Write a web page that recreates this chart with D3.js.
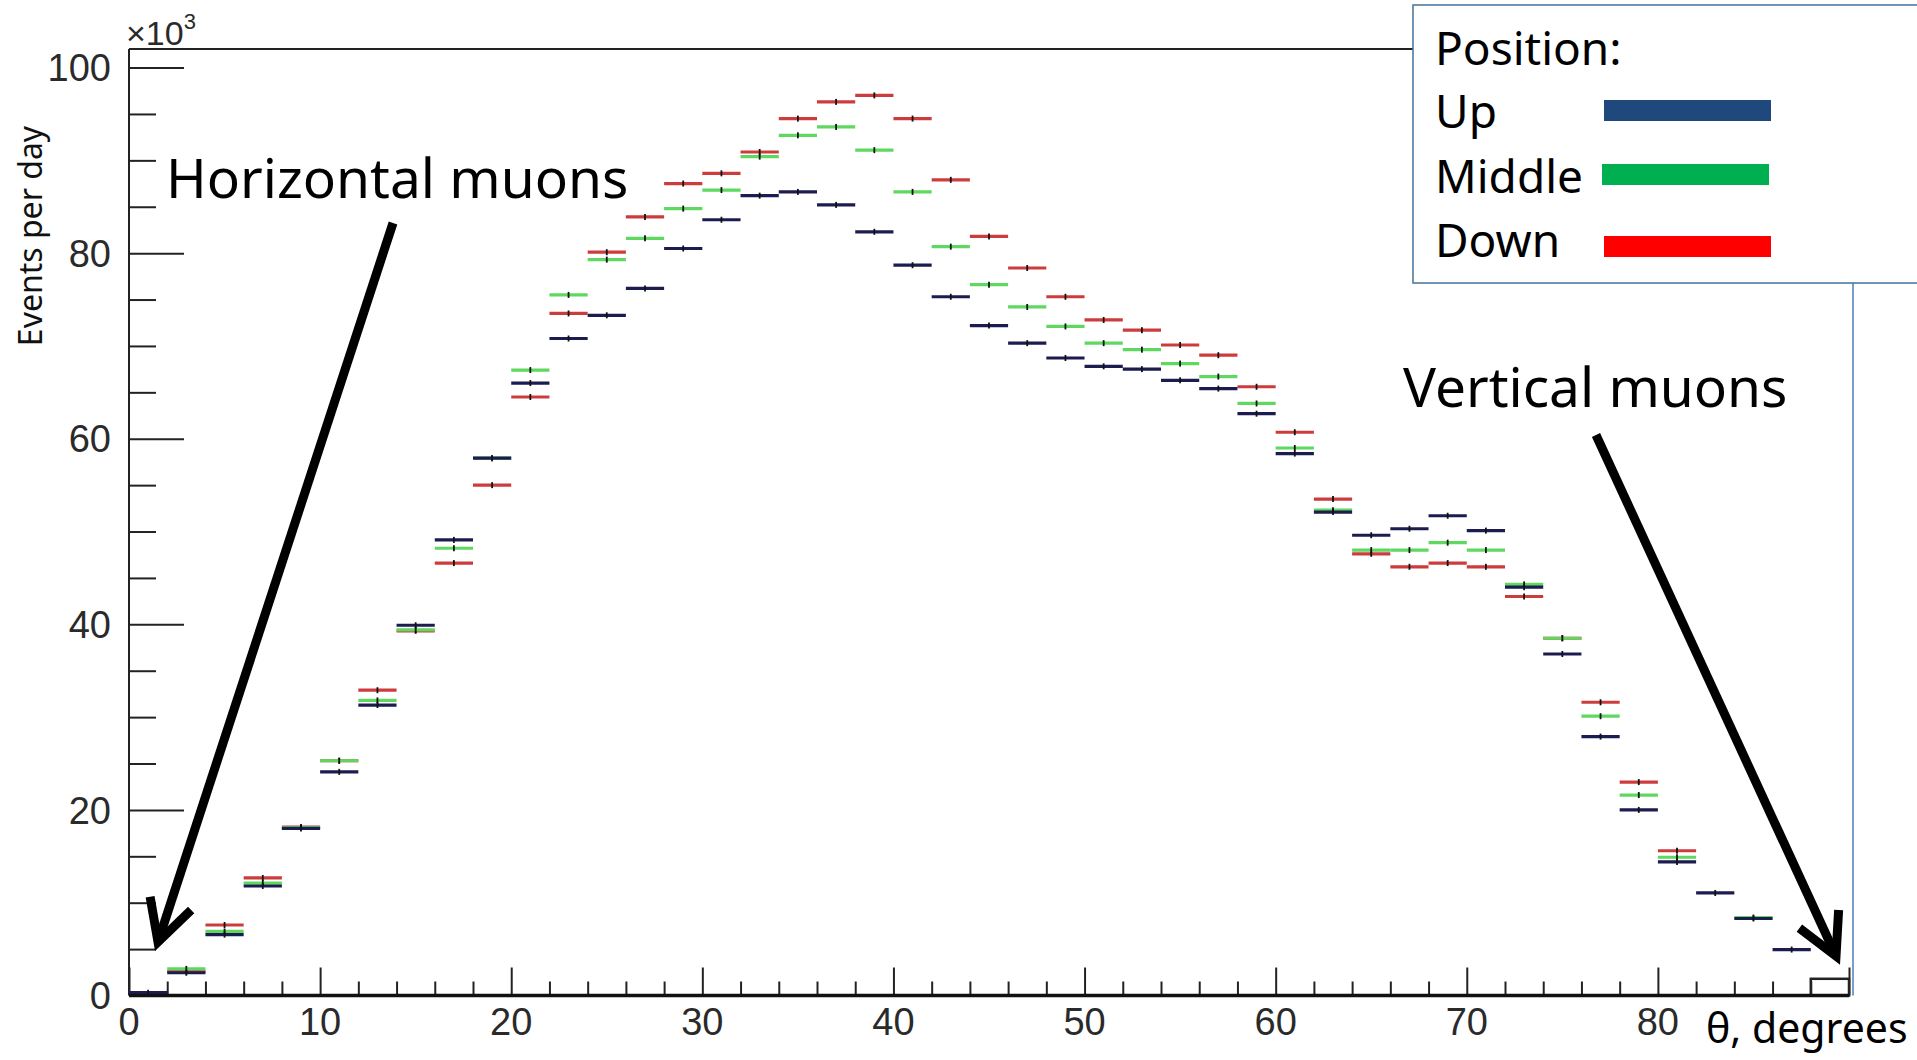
<!DOCTYPE html>
<html>
<head>
<meta charset="utf-8">
<script src="https://cdn.jsdelivr.net/npm/d3@7/dist/d3.min.js"></script>
<style>
  html, body { margin: 0; padding: 0; background: #ffffff; }
  svg { display: block; }
</style>
</head>
<body>
<svg id="chart" width="1917" height="1060"></svg>
<script>
// ---------------- data ----------------
const binWidth = 2;
const binCenters = [1, 3, 5, 7, 9, 11, 13, 15, 17, 19, 21, 23, 25, 27, 29, 31, 33, 35, 37, 39, 41, 43, 45,
  47, 49, 51, 53, 55, 57, 59, 61, 63, 65, 67, 69, 71, 73, 75, 77, 79, 81, 83, 85, 87, 89];
// Events per day, in units of 10^3
const upValues = [0.3, 2.45, 6.56, 11.8, 18.0, 24.1, 31.3, 39.9, 49.1, 57.9, 66.0, 70.8, 73.3, 76.2, 80.5, 83.6,
  86.2, 86.6, 85.2, 82.3, 78.7, 75.3, 72.2, 70.3, 68.7, 67.8, 67.5, 66.3, 65.4, 62.7, 58.4, 52.1, 49.6, 50.3, 51.7,
  50.1, 44.0, 36.8, 27.9, 20.0, 14.4, 11.05, 8.3, 4.95, 1.8];
const middleValues = [null, 2.87, 6.9, 12.1, 18.1, 25.3, 31.8, 39.4, 48.2, 57.9, 67.4, 75.5, 79.3, 81.6, 84.8, 86.8,
  90.4, 92.7, 93.6, 91.1, 86.6, 80.7, 76.6, 74.2, 72.1, 70.3, 69.6, 68.1, 66.7, 63.8, 59.0, 52.3, 48.0, 48.0, 48.8,
  48.0, 44.3, 38.5, 30.1, 21.6, 14.9, null, 8.4, null, null];
const downValues = [null, 2.6, 7.6, 12.67, 18.15, 25.3, 32.9, 39.3, 46.6, 55.0, 64.5, 73.5, 80.1, 83.9, 87.5, 88.6,
  90.9, 94.5, 96.3, 97.0, 94.5, 87.9, 81.8, 78.4, 75.3, 72.8, 71.7, 70.1, 69.0, 65.6, 60.7, 53.5, 47.6, 46.2, 46.6,
  46.2, 43.0, 38.5, 31.6, 23.0, 15.6, null, null, null, null];
const seriesNames = ["Up", "Middle", "Down"];
const xTickLabels = ["0", "10", "20", "30", "40", "50", "60", "70", "80"];
const yTickLabels = ["0", "20", "40", "60", "80", "100"];
const xDomain = [0, 90];
const yDomain = [0, 102];

// ---------------- layout ----------------
const svg = d3.select("#chart");
svg.append("rect").attr("width", 1917).attr("height", 1060).attr("fill", "#ffffff");

const x = d3.scaleLinear().domain(xDomain).range([129, 1849]);
const y = d3.scaleLinear().domain(yDomain).range([995.5, 49]);

const lineColors = { Up: "#1c1c50", Middle: "#5fd85f", Down: "#cc3c3c" };
const legendColors = { Up: "#1f497d", Middle: "#00b050", Down: "#ff0000" };
const valuesBySeries = { Up: upValues, Middle: middleValues, Down: downValues };

// ---------------- frame (top line) ----------------
svg.append("line").attr("x1", x(0)).attr("x2", 1413).attr("y1", y(yDomain[1])).attr("y2", y(yDomain[1]))
  .attr("stroke", "#222").attr("stroke-width", 2);

// ---------------- y axis ----------------
const yMajor = yTickLabels.map(Number);
const yMinor = d3.range(0, 101, 5).filter(v => !yMajor.includes(v));
const yAxisMajor = d3.axisRight(y).tickValues(yMajor).tickSize(55).tickFormat("");
const yAxisMinor = d3.axisRight(y).tickValues(yMinor).tickSize(27).tickFormat("");
const gy1 = svg.append("g").attr("transform", `translate(${x(0)},0)`).call(yAxisMajor);
const gy2 = svg.append("g").attr("transform", `translate(${x(0)},0)`).call(yAxisMinor);
[gy1, gy2].forEach(g => {
  g.select(".domain").remove();
  g.selectAll(".tick line").attr("stroke", "#222").attr("stroke-width", 2);
});
svg.append("line").attr("x1", x(0)).attr("x2", x(0)).attr("y1", y(yDomain[1])).attr("y2", y(0))
  .attr("stroke", "#222").attr("stroke-width", 2);
svg.append("g").selectAll("text").data(yTickLabels).join("text")
  .attr("x", 111).attr("y", d => y(+d)).attr("dy", "0.36em")
  .attr("text-anchor", "end")
  .attr("font-family", "Liberation Sans, Arial, sans-serif").attr("font-size", 38).attr("fill", "#2a2a2a")
  .text(d => d);

// x10^3
const mult = svg.append("text").attr("x", 126).attr("y", 45)
  .attr("font-family", "Liberation Sans, Arial, sans-serif").attr("font-size", 34).attr("fill", "#2a2a2a");
mult.append("tspan").text("\u00d710");
mult.append("tspan").attr("dy", -16).attr("font-size", 22).text("3");

// ---------------- x axis ----------------
const xMajor = d3.range(0, 91, 10);
const xMinor = d3.range(0, 91, 2).filter(v => v % 10 !== 0);
const xAxisMajor = d3.axisTop(x).tickValues(xMajor).tickSize(28).tickFormat("");
const xAxisMinor = d3.axisTop(x).tickValues(xMinor).tickSize(14).tickFormat("");
const gx1 = svg.append("g").attr("transform", `translate(0,${y(0)})`).call(xAxisMajor);
const gx2 = svg.append("g").attr("transform", `translate(0,${y(0)})`).call(xAxisMinor);
[gx1, gx2].forEach(g => {
  g.select(".domain").remove();
  g.selectAll(".tick line").attr("stroke", "#222").attr("stroke-width", 2);
});
svg.append("g").selectAll("text").data(xTickLabels).join("text")
  .attr("x", d => x(+d)).attr("y", 1035)
  .attr("text-anchor", "middle")
  .attr("font-family", "Liberation Sans, Arial, sans-serif").attr("font-size", 38).attr("fill", "#2a2a2a")
  .text(d => d);

// y axis title
svg.append("text")
  .attr("transform", `translate(42,${236}) rotate(-90)`)
  .attr("text-anchor", "middle")
  .attr("font-family", "Noto Sans, sans-serif").attr("font-size", 32).attr("fill", "#111")
  .text("Events per day");

// ---------------- histograms ----------------
const drawOrder = ["Down", "Middle", "Up"];
drawOrder.forEach(name => {
  const vals = valuesBySeries[name];
  const pts = binCenters.map((c, i) => ({ c, v: vals[i], last: i === binCenters.length - 1 }))
    .filter(d => d.v !== null);
  const g = svg.append("g").attr("class", "series-" + name);
  const barPts = pts.filter(d => !(name === "Up" && d.last));
  g.selectAll("line.bin").data(barPts).join("line")
    .attr("class", "bin")
    .attr("x1", d => x(d.c - binWidth / 2)).attr("x2", d => x(d.c + binWidth / 2))
    .attr("y1", d => y(d.v)).attr("y2", d => y(d.v))
    .attr("stroke", lineColors[name]).attr("stroke-width", 3.2);
  g.selectAll("line.err").data(barPts).join("line")
    .attr("class", "err")
    .attr("x1", d => x(d.c)).attr("x2", d => x(d.c))
    .attr("y1", d => y(d.v) - 3).attr("y2", d => y(d.v) + 3)
    .attr("stroke", "#111").attr("stroke-width", 1.8);
  if (name === "Up") {
    const lastPt = pts.filter(d => d.last);
    g.selectAll("rect.lastbin").data(lastPt).join("rect")
      .attr("class", "lastbin")
      .attr("x", d => x(d.c - binWidth / 2)).attr("y", d => y(d.v))
      .attr("width", d => x(d.c + binWidth / 2) - x(d.c - binWidth / 2))
      .attr("height", d => y(0) - y(d.v))
      .attr("fill", "none").attr("stroke", "#222").attr("stroke-width", 2.5);
  }
});

// x axis line (on top)
svg.append("line").attr("x1", x(0)).attr("x2", x(90)).attr("y1", y(0)).attr("y2", y(0))
  .attr("stroke", "#111").attr("stroke-width", 3.5);

// ---------------- overlay: right blue frame line ----------------
svg.append("line").attr("x1", 1853).attr("x2", 1853).attr("y1", 277).attr("y2", y(0))
  .attr("stroke", "#4a7ebb").attr("stroke-width", 1.5);

// ---------------- legend ----------------
const lg = svg.append("g");
lg.append("rect").attr("x", 1413).attr("y", 5).attr("width", 520).attr("height", 278)
  .attr("fill", "#ffffff").attr("stroke", "#41719c").attr("stroke-width", 1.5);
lg.append("text").attr("x", 1435).attr("y", 65)
  .attr("font-family", "Noto Sans, sans-serif").attr("font-size", 46).attr("fill", "#000")
  .text("Position:");
const legendRows = [
  { name: "Up", base: 128, sx: 1604, sy: 100 },
  { name: "Middle", base: 193, sx: 1602, sy: 164 },
  { name: "Down", base: 257, sx: 1604, sy: 236 }
];
legendRows.forEach(r => {
  lg.append("text").attr("x", 1435).attr("y", r.base)
    .attr("font-family", "Noto Sans, sans-serif").attr("font-size", 46).attr("fill", "#000")
    .text(r.name);
  lg.append("rect").attr("x", r.sx).attr("y", r.sy).attr("width", 167).attr("height", 21)
    .attr("fill", legendColors[r.name]);
});

// ---------------- annotations ----------------
svg.append("text").attr("x", 166).attr("y", 198)
  .attr("font-family", "Noto Sans, sans-serif").attr("font-size", 55).attr("fill", "#000")
  .text("Horizontal muons");
svg.append("text").attr("x", 1403).attr("y", 407)
  .attr("font-family", "Noto Sans, sans-serif").attr("font-size", 55).attr("fill", "#000")
  .text("Vertical muons");
svg.append("text").attr("x", 1706).attr("y", 1043)
  .attr("font-family", "Noto Sans, sans-serif").attr("font-size", 41).attr("fill", "#000")
  .text("\u03b8, degrees");

function arrow(x1, y1, x2, y2) {
  const dx = x2 - x1, dy = y2 - y1, len = Math.hypot(dx, dy);
  const ux = dx / len, uy = dy / len;
  const L = 46, a = 28 * Math.PI / 180;
  const bx = -ux, by = -uy;
  const w1 = [x2 + L * (bx * Math.cos(a) - by * Math.sin(a)), y2 + L * (bx * Math.sin(a) + by * Math.cos(a))];
  const w2 = [x2 + L * (bx * Math.cos(-a) - by * Math.sin(-a)), y2 + L * (bx * Math.sin(-a) + by * Math.cos(-a))];
  svg.append("line").attr("x1", x1).attr("y1", y1).attr("x2", x2 - ux * 4).attr("y2", y2 - uy * 4)
    .attr("stroke", "#000").attr("stroke-width", 9);
  svg.append("path").attr("d", `M${w1[0]},${w1[1]} L${x2},${y2} L${w2[0]},${w2[1]}`)
    .attr("fill", "none").attr("stroke", "#000").attr("stroke-width", 9)
    .attr("stroke-linejoin", "miter").attr("stroke-miterlimit", 10);
}
arrow(393, 223, 158, 942);
arrow(1596, 435, 1836, 956);
</script>
</body>
</html>
